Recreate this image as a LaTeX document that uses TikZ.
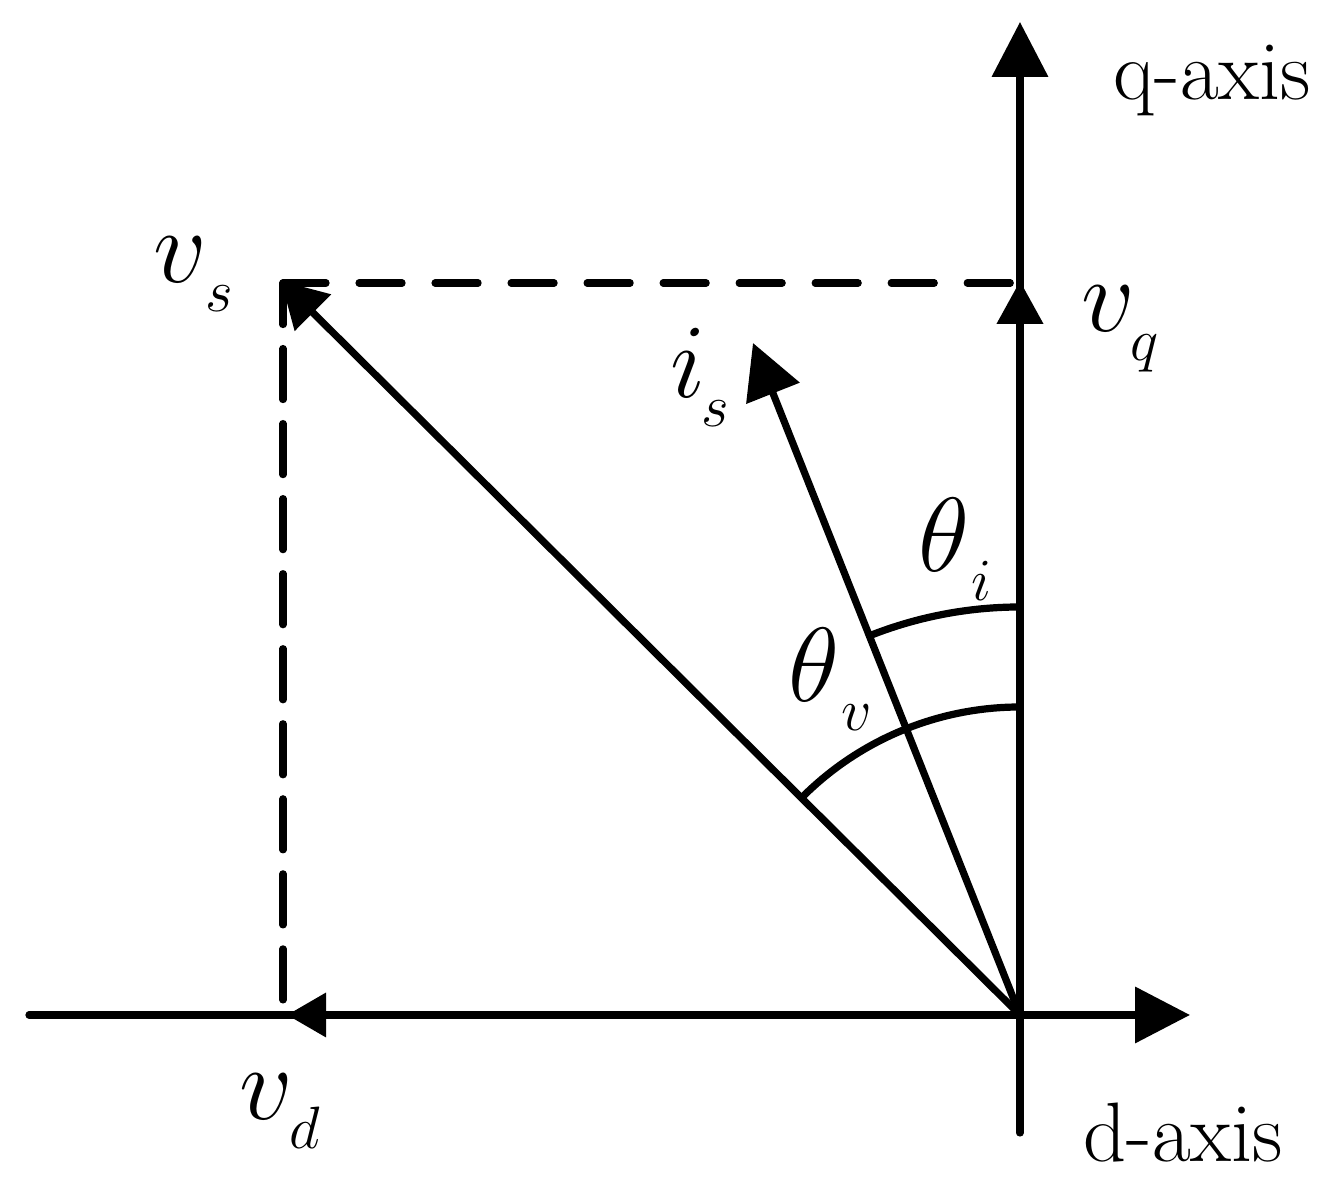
\RequirePackage{fix-cm}
\documentclass[tikz,border=0pt]{standalone}
\usetikzlibrary{arrows.meta}
\newcommand\lbl[3]{$#1$\hspace{#3}\raisebox{-8pt}{\fontsize{17}{17}\selectfont$#2$}}
\begin{document}
\begin{tikzpicture}[x=0.01cm,y=-0.01cm,line width=2.05pt,
  axisline/.style={line cap=round},
  axtip/.style={-{Triangle[length=15.6pt,width=15.6pt]}},
  vqtip/.style={-{Triangle[length=12.2pt,width=12.8pt]}},
  vdtip/.style={-{Triangle[length=11.1pt,width=12.2pt]}},
  vstip/.style={-{Triangle[length=12.8pt,width=14.2pt]}},
  istip/.style={-{Triangle[length=15.4pt,width=15.9pt]}},
  hdash/.style={line cap=round,dash pattern=on 12.23pt off 9.39pt},
  vdash/.style={line cap=round,dash pattern=on 14.51pt off 6.83pt,dash phase=2.7pt},
  anglearc/.style={line cap=butt},
  mathlbl/.style={inner sep=0pt,anchor=base west,font=\fontsize{30}{36}\selectfont},
  axislbl/.style={inner sep=0pt,anchor=base west,font=\fontsize{24}{28}\selectfont}]
\useasboundingbox (0,0) rectangle (1335,1192);
% points
\coordinate (O) at (1020,1015);
\coordinate (Dend) at (29,1015);
\coordinate (Dtip) at (1190,1015);
\coordinate (Qbot) at (1020,1133);
\coordinate (Qtip) at (1020,22);
\coordinate (Vs) at (281,281);
\coordinate (C) at (283,283);
\coordinate (Cq) at (1020,283);
\coordinate (Cd) at (283,1003);
\coordinate (Vq) at (1020,281);
\coordinate (Vd) at (287,1015);
\coordinate (Is) at (753,343);
\coordinate (Ai) at (1020,607);
\coordinate (Av) at (1020,707);
% axes
\draw[axisline,axtip] (Dend) -- (Dtip);
\draw[axisline,axtip] (Qbot) -- (Qtip);
% dashed projections
\draw[hdash] (C) -- (Cq);
\draw[vdash] (C) -- (Cd);
% vectors
\draw[vstip] (O) -- (Vs);
\draw[vqtip] (O) -- (Vq);
\draw[vdtip] (O) -- (Vd);
\draw[istip] (O) -- (Is);
% angle arcs
\draw[anglearc] (Ai) arc[start angle=-90,end angle=-111.67,radius=408];
\draw[anglearc] (Av) arc[start angle=-90,end angle=-135,radius=308];
% labels
\node[axislbl] (qaxis) at (1110,100) {q-axis};
\node[axislbl] (daxis) at (1080,1162) {d-axis};
\node[mathlbl] (lvs) at (150,283) {\lbl{v}{s}{-0.5pt}};
\node[mathlbl] (lvq) at (1078,332) {\lbl{v}{q}{-1.5pt}};
\node[mathlbl] (lis) at (667,398) {\lbl{i}{s}{-1.2pt}};
\node[mathlbl] (lti) at (915,572) {\lbl{\theta}{i}{0.5pt}};
\node[mathlbl] (ltv) at (785,702) {\lbl{\theta}{v}{0.5pt}};
\node[mathlbl] (lvd) at (236,1120) {\lbl{v}{d}{-1pt}};
\end{tikzpicture}
\end{document}
